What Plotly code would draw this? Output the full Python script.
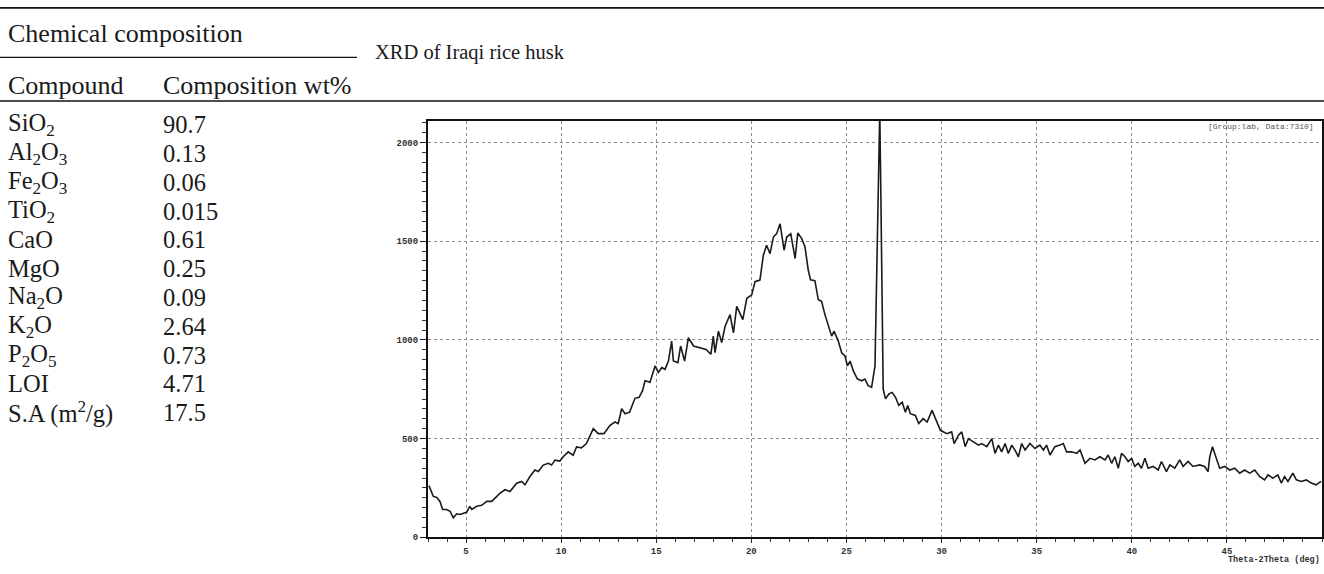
import plotly.graph_objects as go

W, H = 1324, 574

# Chemical composition table
compounds = [
    "SiO<sub>2</sub>", "Al<sub>2</sub>O<sub>3</sub>", "Fe<sub>2</sub>O<sub>3</sub>",
    "TiO<sub>2</sub>", "CaO", "MgO", "Na<sub>2</sub>O", "K<sub>2</sub>O",
    "P<sub>2</sub>O<sub>5</sub>", "LOI", "S.A (m<sup>2</sup>/g)",
]
composition_wt = [90.7, 0.13, 0.06, 0.015, 0.61, 0.25, 0.09, 2.64, 0.73, 4.71, 17.5]

# XRD pattern of the rice husk (2-theta in degrees, counts)
two_theta = [
    3.05, 3.28, 3.46, 3.63, 3.77, 3.98, 4.16, 4.33, 4.51, 4.68, 5.03, 5.20, 5.30, 5.56,
    5.82, 6.09, 6.35, 6.79, 7.05, 7.31, 7.66, 7.92, 8.10, 8.36, 8.62, 8.80, 9.06, 9.32,
    9.50, 9.67, 9.93, 10.11, 10.37, 10.63, 10.81, 11.07, 11.33, 11.52, 11.69, 11.95,
    12.25, 12.57, 12.83, 13.00, 13.18, 13.36, 13.60, 13.88, 14.10, 14.28, 14.41, 14.67,
    14.94, 15.11, 15.29, 15.46, 15.64, 15.81, 15.90, 16.14, 16.28, 16.49, 16.69, 16.96,
    17.31, 17.62, 17.87, 18.00, 18.09, 18.27, 18.44, 18.62, 18.88, 19.06, 19.23, 19.55,
    19.76, 20.02, 20.19, 20.45, 20.63, 20.80, 20.98, 21.16, 21.33, 21.51, 21.72, 21.86,
    22.07, 22.30, 22.44, 22.65, 22.82, 22.99, 23.11, 23.34, 23.52, 23.69, 23.87, 24.05,
    24.22, 24.35, 24.57, 24.75, 24.92, 25.05, 25.19, 25.36, 25.57, 25.79, 25.97, 26.14,
    26.32, 26.50, 26.62, 26.69, 26.75, 26.81, 26.86, 26.93, 27.05, 27.23, 27.40, 27.58,
    27.75, 27.93, 28.10, 28.22, 28.36, 28.62, 28.80, 29.03, 29.24, 29.50, 29.68, 29.94,
    30.27, 30.53, 30.66, 30.89, 31.06, 31.24, 31.41, 31.68, 31.94, 32.11, 32.38, 32.64,
    32.81, 32.99, 33.16, 33.34, 33.51, 33.69, 33.86, 34.04, 34.21, 34.39, 34.65, 34.91,
    35.17, 35.35, 35.52, 35.70, 35.96, 36.22, 36.40, 36.57, 36.84, 37.10, 37.28, 37.54,
    37.80, 38.06, 38.32, 38.59, 38.76, 38.94, 39.11, 39.29, 39.46, 39.64, 39.81, 39.99,
    40.16, 40.34, 40.51, 40.69, 40.86, 41.12, 41.39, 41.56, 41.82, 42.00, 42.26, 42.52,
    42.70, 42.96, 43.22, 43.57, 43.83, 44.01, 44.10, 44.24, 44.41, 44.62, 44.88, 45.15,
    45.41, 45.67, 45.93, 46.20, 46.46, 46.72, 46.98, 47.16, 47.42, 47.68, 47.86, 48.03,
    48.21, 48.47, 48.65, 48.91, 49.17, 49.43, 49.69, 49.95,
]
intensity = [
    262, 207, 202, 182, 141, 141, 132, 99, 119, 116, 127, 157, 141, 157,
    162, 182, 182, 224, 241, 232, 274, 283, 266, 308, 341, 333, 366, 375,
    366, 391, 386, 408, 433, 416, 458, 453, 475, 517, 550, 525,
    525, 567, 584, 576, 651, 626, 634, 704, 709, 743, 793, 785,
    868, 835, 860, 851, 893, 994, 893, 885, 969, 893, 1011, 969,
    960, 952, 927, 1019, 935, 1044, 986, 1069, 1128, 1036, 1170, 1103,
    1211, 1228, 1295, 1303, 1429, 1479, 1437, 1521, 1538, 1588, 1454, 1521,
    1538, 1412, 1541, 1513, 1471, 1354, 1304, 1300, 1203, 1195, 1128, 1069,
    1019, 1044, 994, 935, 919, 868, 893, 843, 802, 793, 802, 768,
    760, 868, 1421, 1822, 2160, 1720, 1404, 751, 701, 726, 734, 709,
    668, 684, 634, 668, 626, 617, 576, 601, 584, 643, 601, 542,
    525, 534, 475, 517, 534, 459, 500, 484, 467, 475, 459, 500,
    425, 467, 433, 475, 425, 467, 442, 408, 475, 442, 475, 450,
    467, 442, 467, 417, 459, 467, 475, 433, 433, 425, 442, 375,
    400, 392, 408, 392, 417, 375, 408, 350, 425, 408, 384, 400,
    359, 375, 350, 400, 350, 359, 341, 384, 333, 367, 350, 392,
    359, 384, 359, 367, 359, 333, 408, 459, 408, 350, 359, 341,
    350, 325, 341, 325, 341, 308, 291, 316, 300, 316, 275, 308,
    283, 325, 291, 283, 291, 275, 266, 283,
]

x_ticks = [5, 10, 15, 20, 25, 30, 35, 40, 45]
y_ticks = [0, 500, 1000, 1500, 2000]


def fx(px):
    return px / W


def fy(py):
    return 1 - py / H


serif = "Liberation Serif"
mono = "Liberation Mono"

fig = go.Figure()
fig.add_trace(go.Scatter(
    x=two_theta, y=intensity, mode="lines",
    line=dict(color="#1a1a1a", width=1.6),
    showlegend=False, hoverinfo="skip",
))

axis_common = dict(
    showline=True, linecolor="#111", linewidth=2.2, mirror=True,
    ticks="outside", tickwidth=1.2, tickcolor="#222",
    showgrid=True, gridcolor="#8c8c8c", gridwidth=1, griddash="dot",
    zeroline=False, fixedrange=True,
    tickfont=dict(family=mono, size=9, color="#333", weight="bold"),
)

fig.update_layout(
    width=W, height=H,
    margin=dict(l=0, r=0, t=0, b=0),
    paper_bgcolor="white", plot_bgcolor="white",
    xaxis=dict(
        domain=[fx(428), fx(1322)], range=[3, 50],
        tickmode="array", tickvals=x_ticks, ticktext=[str(v) for v in x_ticks],
        ticklen=4, ticklabelstandoff=0,
        minor=dict(dtick=1, ticks="outside", ticklen=3, tickcolor="#333", showgrid=False),
        **axis_common,
    ),
    yaxis=dict(
        domain=[fy(543), fy(122)], range=[0, 2110],
        tickmode="array", tickvals=y_ticks, ticktext=[str(v) for v in y_ticks],
        ticklen=6,
        minor=dict(dtick=50, ticks="outside", ticklen=4, tickcolor="#333", showgrid=False),
        **axis_common,
    ),
)

# Table rules
shapes = [
    dict(type="line", xref="paper", yref="paper", x0=0, x1=1, y0=fy(8), y1=fy(8),
         line=dict(color="#111", width=1.6)),
    dict(type="line", xref="paper", yref="paper", x0=0, x1=fx(357), y0=fy(58), y1=fy(58),
         line=dict(color="#111", width=1.4)),
    dict(type="line", xref="paper", yref="paper", x0=0, x1=1, y0=fy(102), y1=fy(102),
         line=dict(color="#111", width=1.4)),
]
fig.update_layout(shapes=shapes)

ann = []
head_font = dict(family=serif, size=26, color="#1a1a1a")
row_font = dict(family=serif, size=24.5, color="#1a1a1a")


def label(text, x, y, font, xanchor="left"):
    ann.append(dict(
        text=text, x=fx(x), y=fy(y), xref="paper", yref="paper",
        xanchor=xanchor, yanchor="middle", showarrow=False,
        font=font,
    ))


label("Chemical composition", 6, 34, head_font)
label("Compound", 6, 86, head_font)
label("Composition wt%", 161, 86, head_font)
label("XRD of Iraqi rice husk", 373, 53, dict(family=serif, size=20.5, color="#1a1a1a"))

row0, row_step = 126, 29.1
for i, (name, val) in enumerate(zip(compounds, composition_wt)):
    yy = row0 + i * row_step
    label(name, 6, yy, row_font)
    label(str(val), 161, yy, row_font)

label("[Group:lab, Data:7310]", 1316, 128,
      dict(family=mono, size=8, color="#555"), xanchor="right")
label("Theta-2Theta (deg)", 1322, 566,
      dict(family=mono, size=8.5, color="#333", weight="bold"), xanchor="right")

fig.update_layout(annotations=ann)

fig.write_html("out.html")
